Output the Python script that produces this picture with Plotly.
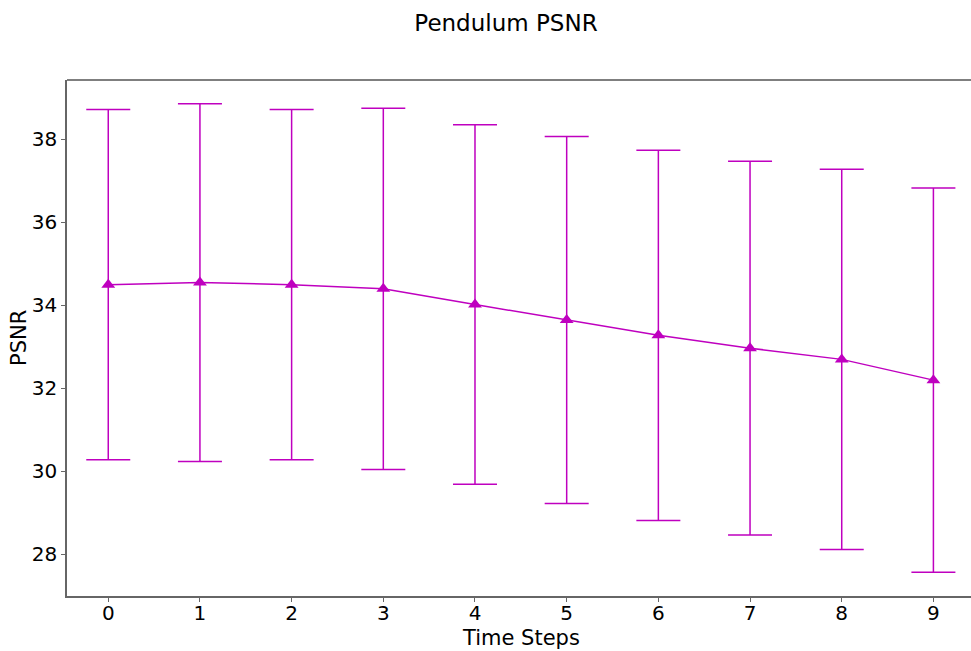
import plotly.graph_objects as go

steps = [0, 1, 2, 3, 4, 5, 6, 7, 8, 9]
psnr_mean = [34.50, 34.55, 34.50, 34.40, 34.02, 33.65, 33.28, 32.97, 32.70, 32.20]
psnr_std = [4.22, 4.31, 4.22, 4.35, 4.33, 4.42, 4.46, 4.50, 4.58, 4.63]
xticks = [0, 1, 2, 3, 4, 5, 6, 7, 8, 9]
yticks = [28, 30, 32, 34, 36, 38]

color = "#bf00bf"
fig = go.Figure()
fig.add_trace(go.Scatter(
    x=steps, y=psnr_mean, mode="lines+markers",
    line=dict(color=color, width=1.5),
    marker=dict(symbol="triangle-up", size=12, color=color),
    error_y=dict(type="data", array=psnr_std, visible=True, color=color,
                 thickness=1.5, width=22),
    showlegend=False,
))

font = "DejaVu Sans, sans-serif"
W, H = 971, 651
L, R, T, B = 67, 0, 80, 55
pw, ph = W - L - R, H - T - B
fig.update_layout(
    width=W, height=H,
    paper_bgcolor="white", plot_bgcolor="white",
    margin=dict(l=L, r=R, t=T, b=B, pad=0),
    title=dict(text="Pendulum PSNR", x=506/W, xanchor="center", xref="container",
               y=1-23/H, yanchor="middle", yref="container",
               font=dict(family=font, size=23, color="black")),
    font=dict(family=font, color="black"),
    xaxis=dict(range=[-0.45, 9.41], tickvals=xticks, showgrid=False, zeroline=False,
               showline=True, linecolor="#666666", linewidth=1.5,
               ticks="outside", ticklen=4, tickcolor="#666666", tickwidth=1.2,
               ticklabelstandoff=-6,
               tickfont=dict(size=20, family=font, color="black"), automargin=False),
    yaxis=dict(range=[27.0, 39.43], tickvals=yticks, showgrid=False, zeroline=False,
               showline=True, linecolor="#666666", linewidth=1.5,
               ticks="outside", ticklen=4, tickcolor="#666666", tickwidth=1.2,
               tickfont=dict(size=20, family=font, color="black"), automargin=False),
    shapes=[dict(type="line", xref="paper", yref="paper", x0=0, x1=1, y0=1, y1=1,
                 line=dict(color="black", width=1.2))],
    annotations=[
        dict(text="Time Steps", xref="paper", yref="paper", x=(521-L)/pw, y=-(638-(T+ph))/ph,
             xanchor="center", yanchor="middle", showarrow=False,
             font=dict(family=font, size=21, color="black")),
        dict(text="PSNR", xref="paper", yref="paper", x=(19-L)/pw, y=0.5, textangle=-90,
             xanchor="center", yanchor="middle", showarrow=False,
             font=dict(family=font, size=21, color="black")),
    ],
)
fig.write_html("out.html", config={"displayModeBar": False},
               post_script="document.body.style.margin='0';document.body.style.overflow='hidden';")
